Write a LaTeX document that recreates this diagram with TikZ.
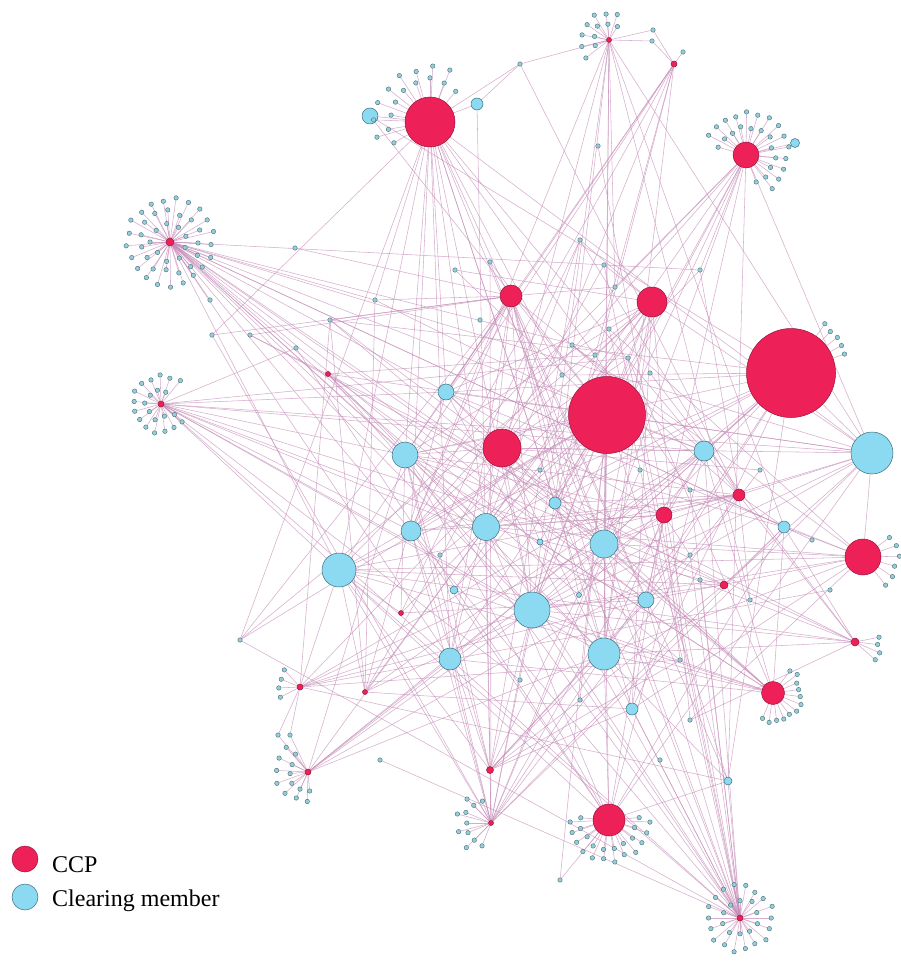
\documentclass[tikz,border=0pt]{standalone}
\usepackage{fontspec}
\setmainfont{Liberation Serif}
\usetikzlibrary{backgrounds,calc}
\definecolor{ccpred}{RGB}{238,32,88}
\definecolor{ccpline}{RGB}{150,20,55}
\definecolor{cmblue}{RGB}{140,218,242}
\definecolor{cmline}{RGB}{60,110,125}
\definecolor{leaffill}{RGB}{150,205,215}
\definecolor{leafline}{RGB}{70,110,120}
\definecolor{edgecol}{RGB}{198,140,184}
\tikzset{
  ccp/.style={circle,inner sep=0pt,minimum size=#1,fill=ccpred,draw=ccpline,line width=0.5pt},
  cm/.style={circle,inner sep=0pt,minimum size=#1,fill=cmblue,draw=cmline,line width=0.5pt},
  leaf/.style={circle,inner sep=0pt,minimum size=4.5pt,fill=leaffill,draw=leafline,line width=0.4pt},
  link/.style={draw=edgecol,line width=0.55pt,opacity=0.7},
  legendtext/.style={anchor=base west,inner sep=0pt,font=\fontsize{24}{27}\selectfont,text=black}
}
% hub, start angle, end angle, radius, count
\newcommand\netstar[5]{%
  \foreach \k in {1,...,#5}{%
    \pgfmathsetmacro\ang{-(#2+(#3-#2)*(\k-0.5)/#5)}%
    \pgfmathsetmacro\rr{#4+5*rnd-2.5}%
    \node[leaf] (#1r#4k\k) at ($(#1)+(\ang:\rr)$) {};%
    \begin{pgfonlayer}{background}\draw[link] (#1) -- (#1r#4k\k);\end{pgfonlayer}%
  }%
}
\begin{document}
\begin{tikzpicture}[x=1pt,y=-1pt]
\pgfmathsetseed{2718}
\begin{pgfonlayer}{background}
\fill[white] (0,0) rectangle (901,963);
\end{pgfonlayer}
\useasboundingbox (0,0) rectangle (901,963);

% CCPs
\node[ccp=50pt] (c1) at (430,122) {};
\node[ccp=26pt] (c2) at (746,155) {};
\node[ccp=22pt] (c3) at (511,296) {};
\node[ccp=30pt] (c4) at (652,302) {};
\node[ccp=77pt] (c5) at (607,415) {};
\node[ccp=89pt] (c6) at (791,373) {};
\node[ccp=38pt] (c7) at (502,448) {};
\node[ccp=16pt] (c8) at (664,515) {};
\node[ccp=12pt] (c9) at (739,495) {};
\node[ccp=36pt] (c10) at (863,557) {};
\node[ccp=23pt] (c11) at (773,693) {};
\node[ccp=32pt] (c12) at (609,820) {};
\node[ccp=8pt] (h1) at (170,242) {};
\node[ccp=6pt] (h2) at (161,404) {};
\node[ccp=5pt] (h3) at (609,40) {};
\node[ccp=6pt] (h4) at (674,64) {};
\node[ccp=5pt] (h5) at (328,374) {};
\node[ccp=5pt] (h6) at (401,613) {};
\node[ccp=8pt] (h7) at (724,585) {};
\node[ccp=8pt] (h8) at (855,642) {};
\node[ccp=6pt] (h9) at (300,687) {};
\node[ccp=6pt] (h10) at (308,772) {};
\node[ccp=7pt] (h11) at (490,770) {};
\node[ccp=5pt] (h12) at (491,823) {};
\node[ccp=6pt] (h13) at (740,918) {};
\node[ccp=5pt] (h14) at (365,692) {};

% clearing members
\node[cm=16pt] (m1) at (370,116) {};
\node[cm=12pt] (m2) at (477,104) {};
\node[cm=42pt] (m3) at (872,453) {};
\node[cm=26pt] (m4) at (405,455) {};
\node[cm=20pt] (m5) at (704,451) {};
\node[cm=16pt] (m6) at (446,392) {};
\node[cm=20pt] (m7) at (411,531) {};
\node[cm=27pt] (m8) at (486,527) {};
\node[cm=28pt] (m9) at (604,544) {};
\node[cm=34pt] (m10) at (339,570) {};
\node[cm=36pt] (m11) at (532,610) {};
\node[cm=32pt] (m12) at (604,654) {};
\node[cm=22pt] (m13) at (450,659) {};
\node[cm=16pt] (m14) at (646,600) {};
\node[cm=12pt] (m15) at (555,503) {};
\node[cm=12pt] (m16) at (784,527) {};
\node[cm=12pt] (m17) at (632,709) {};
\node[cm=8pt] (m18) at (728,781) {};
\node[cm=6pt] (m19) at (540,542) {};
\node[cm=8pt] (m20) at (454,590) {};
\node[cm=5pt] (m21) at (579,595) {};
\node[cm=9pt] (x6) at (795,143) {};

% small scattered members
\foreach \i/\px/\py in {1/520/64,2/598/146,3/295/248,4/296/348,5/490/262,6/604/265,7/615/287,8/609/329,
  9/250/335,10/212/335,11/330/320,12/480/320,13/540/470,14/640/470,15/690/490,16/690/555,17/760/470,
  18/812/540,19/440/555,20/520/680,21/680/660,22/700/580,23/750/600,24/830/590,25/580/700,26/690/720,
  27/560/880,28/572/345,29/595/355,30/628/358,31/650/373,32/562/375,33/580/240,34/700/270,35/455/270,
  36/375/300,37/210/300,38/240/640,39/380/760,40/660/760}{
  \node[leaf] (t\i) at (\px,\py) {};
}
\node[leaf] (x1) at (653,30) {};
\node[leaf] (x2) at (652,41) {};
\node[leaf] (x3) at (683,52) {};
\node[leaf] (x4) at (278,735) {};
\node[leaf] (x5) at (290,735) {};

% peripheral stars
\netstar{h1}{0}{360}{18}{9}
\netstar{h1}{10}{370}{30}{15}
\netstar{h1}{5}{365}{43}{21}
\netstar{h2}{50}{340}{15}{8}
\netstar{h2}{40}{330}{28}{14}
\netstar{h3}{40}{220}{16}{5}
\netstar{h3}{60}{230}{28}{7}
\netstar{c1}{40}{220}{42}{9}
\netstar{c1}{60}{205}{54}{8}
\netstar{c2}{-80}{175}{28}{12}
\netstar{c2}{-60}{160}{42}{14}
\netstar{h13}{0}{360}{18}{10}
\netstar{h13}{10}{370}{32}{18}
\netstar{c12}{165}{375}{28}{10}
\netstar{c12}{175}{365}{40}{12}
\netstar{h12}{100}{260}{25}{7}
\netstar{h12}{120}{240}{36}{4}
\netstar{h10}{110}{290}{20}{6}
\netstar{h10}{120}{280}{31}{7}
\netstar{h9}{120}{220}{22}{4}
\netstar{c11}{-120}{60}{28}{12}
\netstar{h8}{-50}{20}{25}{4}
\netstar{c10}{-60}{45}{35}{6}
\netstar{c6}{15}{60}{58}{5}

% connectors
\begin{pgfonlayer}{background}
\foreach \mem/\pr in {m1/0.06,m2/0.06,m3/0.8,m4/0.78,m5/0.62,m6/0.56,m7/0.62,m8/0.78,m9/0.8,m10/0.8,
  m11/0.8,m12/0.8,m13/0.7,m14/0.56,m15/0.5,m16/0.45,m17/0.45,m18/0.3,m19/0.25,m20/0.3,m21/0.25}{
  \foreach \hub/\wt in {c1/1.0,c2/1.0,c3/0.9,c4/1.0,c5/1.25,c6/1.25,c7/1.1,c8/0.8,c9/0.7,c10/1.0,c11/1.0,
    c12/1.0,h1/1.3,h2/1.2,h3/0.8,h4/0.6,h5/0.6,h6/0.5,h7/0.7,h8/0.8,h9/0.8,h10/0.9,h11/0.8,h12/0.8,h13/1.0,h14/0.5}{
    \pgfmathtruncatemacro\hit{rnd<\pr*\wt}
    \ifnum\hit=1 \draw[link] (\mem) -- (\hub);\fi
  }
}
\foreach \i in {1,...,40}{
  \foreach \hub/\wt in {c1/1.0,c2/1.0,c3/0.9,c4/1.0,c5/1.25,c6/1.25,c7/1.1,c8/0.8,c9/0.7,c10/1.0,c11/1.0,
    c12/1.0,h1/1.3,h2/1.2,h3/0.8,h4/0.6,h5/0.6,h6/0.5,h7/0.7,h8/0.8,h9/0.8,h10/0.9,h11/0.8,h12/0.8,h13/1.0,h14/0.5}{
    \pgfmathtruncatemacro\hit{rnd<0.1*\wt}
    \ifnum\hit=1 \draw[link] (t\i) -- (\hub);\fi
  }
}
\foreach \a/\b in {h3/x1,h3/x2,h4/x1,h4/x2,h4/x3,h9/x4,h10/x4,h9/x5,h10/x5,c1/m1,c1/m2,c2/x6,h3/t1,c1/t1,m2/t1}{
  \draw[link] (\a) -- (\b);
}
\end{pgfonlayer}

% legend
\node[ccp=26pt] (lg1) at (25,859) {};
\node[cm=26pt] (lg2) at (25,897) {};
\node[legendtext] (lt1) at (52,872) {CCP};
\node[legendtext] (lt2) at (52,906) {Clearing member};
\end{tikzpicture}
\end{document}
